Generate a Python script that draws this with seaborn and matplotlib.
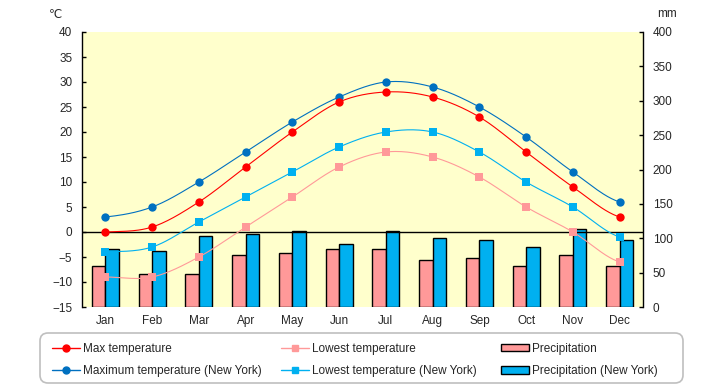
import numpy as np
import pandas as pd
import matplotlib
matplotlib.use("Agg")
import matplotlib.pyplot as plt
import seaborn as sns
from matplotlib.lines import Line2D
from matplotlib.patches import Patch, FancyBboxPatch

months = ["Jan", "Feb", "Mar", "Apr", "May", "Jun", "Jul", "Aug", "Sep", "Oct", "Nov", "Dec"]
max_temp = [0, 1, 6, 13, 20, 26, 28, 27, 23, 16, 9, 3]
low_temp = [-9, -9, -5, 1, 7, 13, 16, 15, 11, 5, 0, -6]
max_temp_ny = [3, 5, 10, 16, 22, 27, 30, 29, 25, 19, 12, 6]
low_temp_ny = [-4, -3, 2, 7, 12, 17, 20, 20, 16, 10, 5, -1]
precip = [59, 48, 48, 75, 78, 84, 85, 69, 72, 59, 75, 59]
precip_ny = [85, 82, 103, 106, 111, 91, 110, 101, 98, 88, 113, 98]

sns.set_theme(style="white")
plt.rcParams['font.family'] = ['Liberation Sans', 'DejaVu Sans']

W, H = 720, 385
fig = plt.figure(figsize=(W/100, H/100), dpi=100)
L, R, B, T = 82/W, 643/W, 1-307/H, 1-32/H
ax = fig.add_axes([L, B, R-L, T-B])
ax.set_facecolor("#FFFFCC")

df = pd.DataFrame({
    "month": months * 2,
    "precip": precip + precip_ny,
    "city": ["Precipitation"] * 12 + ["Precipitation (New York)"] * 12,
})
sns.barplot(data=df, x="month", y="precip", hue="city", order=months,
            palette=["#FF9999", "#00B0F0"], edgecolor="black", linewidth=1,
            width=0.58, gap=0, ax=ax, legend=False, saturation=1)
ax.set_ylim(0, 400)
ax.set_yticks(np.arange(0, 401, 50))
ax.yaxis.tick_right()
ax.set_xlabel("")
ax.set_ylabel("")
ax.set_xlim(-0.5, 11.5)

ax2 = ax.twinx()
ax2.set_ylim(-15, 40)
ax2.set_yticks(np.arange(-15, 41, 5))
ax2.yaxis.tick_left()
ax2.patch.set_visible(False)
ax2.axhline(0, color="black", lw=1.0, zorder=1)


def smooth(y, n=24, t=0.5):
    y = np.asarray(y, float)
    xs, ys = [], []
    for i in range(len(y) - 1):
        p0 = y[i-1] if i > 0 else y[i]
        p1, p2 = y[i], y[i+1]
        p3 = y[i+2] if i+2 < len(y) else y[i+1]
        m1 = t * (p2 - p0)
        m2 = t * (p3 - p1)
        s = np.linspace(0, 1, n, endpoint=(i == len(y) - 2))
        h00 = 2*s**3 - 3*s**2 + 1
        h10 = s**3 - 2*s**2 + s
        h01 = -2*s**3 + 3*s**2
        h11 = s**3 - s**2
        ys.append(h00*p1 + h10*m1 + h01*p2 + h11*m2)
        xs.append(i + s)
    return np.concatenate(xs), np.concatenate(ys)


series = [
    (max_temp_ny, "#0070C0", "o", 6.0),
    (max_temp, "#FF0000", "o", 6.0),
    (low_temp_ny, "#00B0F0", "s", 5.5),
    (low_temp, "#FF9999", "s", 5.5),
]
for vals, col, mk, ms in series:
    xs, ys = smooth(vals)
    ax2.plot(xs, ys, color=col, lw=0.8, zorder=3)
    ax2.plot(np.arange(12), vals, ls="none", marker=mk, ms=ms, color=col,
             markeredgewidth=0, zorder=4)

for a in (ax, ax2):
    for s in a.spines.values():
        s.set_visible(False)
ax2.spines["left"].set_visible(True)
ax2.spines["left"].set_color("black")
ax2.spines["left"].set_linewidth(1)
ax.spines["right"].set_visible(True)
ax.spines["right"].set_color("black")
ax.spines["right"].set_linewidth(1)

ax.tick_params(axis="y", direction="in", length=3, width=1, color="black",
               labelsize=8.5, pad=7, right=True, left=False, labelright=True, labelleft=False)
ax2.tick_params(axis="y", direction="in", length=3, width=1, color="black",
                labelsize=8.5, pad=7, left=True, right=False, labelleft=True, labelright=False)
ax.tick_params(axis="x", length=0, labelsize=8.5, pad=6)
ax.grid(False)
ax2.grid(False)

fig.text(55/W, 1-15/H, "℃", fontsize=8.5, ha="center", va="center")
fig.text(667/W, 1-14/H, "mm", fontsize=8.5, ha="center", va="center")

# legend frame
frame = FancyBboxPatch((40, H-383), 643, 50, boxstyle="round,pad=0,rounding_size=8",
                       transform=None, facecolor="white", edgecolor="#BFBFBF", lw=1.2,
                       zorder=0)
fig.patches.append(frame)

cols = [
    (52, [Line2D([], [], color="#FF0000", marker="o", ms=5, lw=1),
          Line2D([], [], color="#0070C0", marker="o", ms=5, lw=1)],
     ["Max temperature", "Maximum temperature (New York)"]),
    (281, [Line2D([], [], color="#FF9999", marker="s", ms=5, lw=1),
           Line2D([], [], color="#00B0F0", marker="s", ms=5, lw=1)],
     ["Lowest temperature", "Lowest temperature (New York)"]),
    (501, [Patch(facecolor="#FF9999", edgecolor="black", lw=1),
           Patch(facecolor="#00B0F0", edgecolor="black", lw=1)],
     ["Precipitation", "Precipitation (New York)"]),
]
for x0, hs, ls in cols:
    leg = fig.legend(hs, ls, loc="center left",
                     bbox_to_anchor=(x0/W, 1-360/H), frameon=False,
                     fontsize=8.5, handlelength=2.4, handleheight=0.6,
                     handletextpad=0.25, labelspacing=0.9,
                     borderpad=0, borderaxespad=0)

fig.savefig("out.png", dpi=100)
